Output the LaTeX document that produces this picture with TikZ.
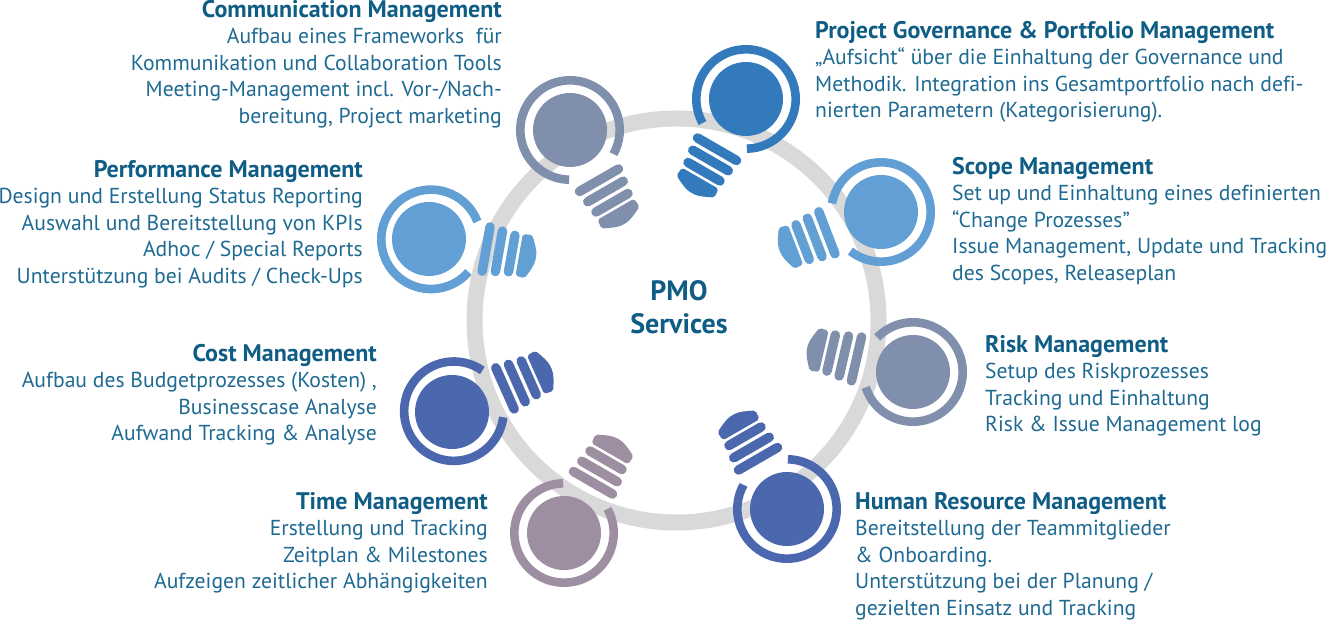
\documentclass[tikz,border=0pt]{standalone}
\usepackage{fontspec}
\setmainfont[Ligatures=NoCommon]{PT Sans}
\usepackage{tikz}

\definecolor{govblue}{HTML}{337ABD}
\definecolor{skyblue}{HTML}{629FD4}
\definecolor{slateblue}{HTML}{808FAB}
\definecolor{royalblue}{HTML}{4B67AE}
\definecolor{mauvegrey}{HTML}{9D8FA1}
\definecolor{ringgrey}{HTML}{D9D9D9}
\definecolor{headblue}{HTML}{0F5C85}
\definecolor{textblue}{HTML}{1F6A92}

\tikzset{
    txtblock/.style={inner sep=0pt,text=textblue,font=\fontsize{21.65}{26.5}\selectfont},
    txtleft/.style={txtblock,anchor=north west,align=left},
    txtright/.style={txtblock,anchor=north east,align=right},
    bulbbar/.style={line width=9.5pt,line cap=round},
}

\newcommand{\hd}[1]{{\bfseries\color{headblue}\fontsize{24}{26.5}\selectfont #1}}

% x, y, angle of the base, colour, shift of the ring
\newcommand{\lightbulb}[5]{
    \begin{scope}[shift={(#1,#2)},rotate=#3,color=#4]
    \fill (0,0) circle (37);
    \draw[line width=8.6pt,shift={(#5,0)}] (31:49.7) arc[start angle=31,end angle=329,radius=49.7];
    \foreach \d/\h in {58/22.5,71/20.5,84/18.5}
    \draw[bulbbar] (\d,-\h) -- (\d,\h);
    \fill[rounded corners=2pt] (91.5,-21) -- (101,-22) .. controls (105,-14) and (108.5,-7) .. (108.5,0)
        .. controls (108.5,7) and (105,14) .. (101,22) -- (91.5,21) -- cycle;
    \end{scope}
}

\begin{document}
\begin{tikzpicture}[x=1pt,y=1pt]
    \useasboundingbox (0,0) rectangle (1328,620);
    % the big ring behind everything
    \draw[ringgrey,line width=16pt] (676.5,299.5) circle (202);

    \lightbulb{746}{521}{240}{govblue}{0}
    \lightbulb{881}{408}{201}{skyblue}{0}
    \lightbulb{913}{248}{167}{slateblue}{0}
    \lightbulb{787}{111}{120}{royalblue}{0}
    \lightbulb{564}{87}{60}{mauvegrey}{0}
    \lightbulb{452}{208}{24}{royalblue}{2}
    \lightbulb{429}{381}{-10}{skyblue}{2}
    \lightbulb{570}{490}{-60}{slateblue}{0}

    \node[inner sep=0pt,align=center,text=headblue,font=\bfseries\fontsize{28}{33}\selectfont] (pmo) at (679,313) {PMO\\Services};

    \node[txtright] (comm) at (502,620) {\hd{Communication Management}\\Aufbau eines Frameworks~ für\\Kommunikation und Collaboration Tools\\Meeting-Management incl. Vor-/Nach-\\bereitung, Project marketing};
    \node[txtright] (perf) at (363,460) {\hd{Performance Management}\\Design und Erstellung Status Reporting\\Auswahl und Bereitstellung von KPIs\\Adhoc / Special Reports\\Unterstützung bei Audits / Check-Ups};
    \node[txtright] (cost) at (377,276) {\hd{Cost Management}\\Aufbau des Budgetprozesses (Kosten) ,\\Businesscase Analyse\\Aufwand Tracking \& Analyse};
    \node[txtright] (time) at (488,128) {\hd{Time Management}\\Erstellung und Tracking\\Zeitplan \& Milestones\\Aufzeigen zeitlicher Abhängigkeiten};

    \node[txtleft] (gov) at (815,599) {\hd{Project Governance \& Portfolio Management}\\„Aufsicht“ über die Einhaltung der Governance und\\Methodik. Integration ins Gesamtportfolio nach defi-\\nierten Parametern (Kategorisierung).};
    \node[txtleft] (scope) at (952,463) {\hd{Scope Management}\\Set up und Einhaltung eines definierten\\“Change Prozesses”\\Issue Management, Update und Tracking\\des Scopes, Releaseplan};
    \node[txtleft] (risk) at (985,285) {\hd{Risk Management}\\Setup des Riskprozesses\\Tracking und Einhaltung\\Risk \& Issue Management log};
    \node[txtleft] (hr) at (855,128) {\hd{Human Resource Management}\\Bereitstellung der Teammitglieder\\\& Onboarding.\\Unterstützung bei der Planung /\\gezielten Einsatz und Tracking};
\end{tikzpicture}
\end{document}
